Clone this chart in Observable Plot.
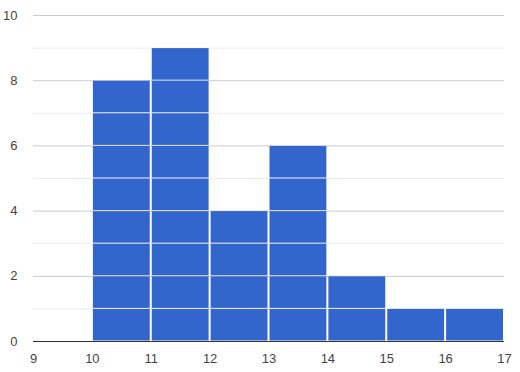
<!DOCTYPE html>
<html>
<head>
<meta charset="utf-8">
<script src="https://cdn.jsdelivr.net/npm/d3@7"></script>
<script src="https://cdn.jsdelivr.net/npm/@observablehq/plot@0.6"></script>
<style>
  body { margin: 0; background: #fff; }
  #chart svg text { font-size: 13px !important; fill: #444 !important; font-family: 'Liberation Sans', Arial, sans-serif !important; }
</style>
</head>
<body>
<div id="chart"></div>
<script>
// Histogram buckets (lower edge) and counts
const bucketStarts = [10, 11, 12, 13, 14, 15, 16];
const bucketCounts = [8, 9, 4, 6, 2, 1, 1];
const xTicks = [9, 10, 11, 12, 13, 14, 15, 16, 17];
const yMajorTicks = [0, 2, 4, 6, 8, 10];
const yMinorTicks = [1, 3, 5, 7, 9];

// one block per item, stacked like Google's histogram
const blocks = [];
bucketStarts.forEach((b, i) => {
  for (let k = 0; k < bucketCounts[i]; k++) blocks.push({x1: b, x2: b + 1, y1: k, y2: k + 1});
});

const chart = Plot.plot({
  width: 520,
  height: 372,
  marginLeft: 33,
  marginRight: 16,
  marginTop: 15,
  marginBottom: 31,
  style: {fontFamily: "'Liberation Sans', Arial, sans-serif", fontSize: "13px", background: "#fff"},
  x: {domain: [9, 17]},
  y: {domain: [0, 10]},
  marks: [
    Plot.ruleY(yMinorTicks, {stroke: "#ebebeb", strokeWidth: 1}),
    Plot.ruleY(yMajorTicks, {stroke: "#cccccc", strokeWidth: 1}),
    Plot.rect(blocks, {x1: "x1", x2: "x2", y1: "y1", y2: "y2", fill: "#3366cc",
      insetLeft: 1, insetRight: 1, insetTop: 0.5, insetBottom: 0.5}),
    Plot.ruleY([0], {stroke: "#333333", strokeWidth: 1}),
    Plot.axisX({ticks: xTicks, tickSize: 0, tickPadding: 12, label: null}),
    Plot.axisY({ticks: yMajorTicks, tickSize: 0, tickPadding: 16, label: null})
  ]
});
document.getElementById("chart").appendChild(chart);
</script>
</body>
</html>
